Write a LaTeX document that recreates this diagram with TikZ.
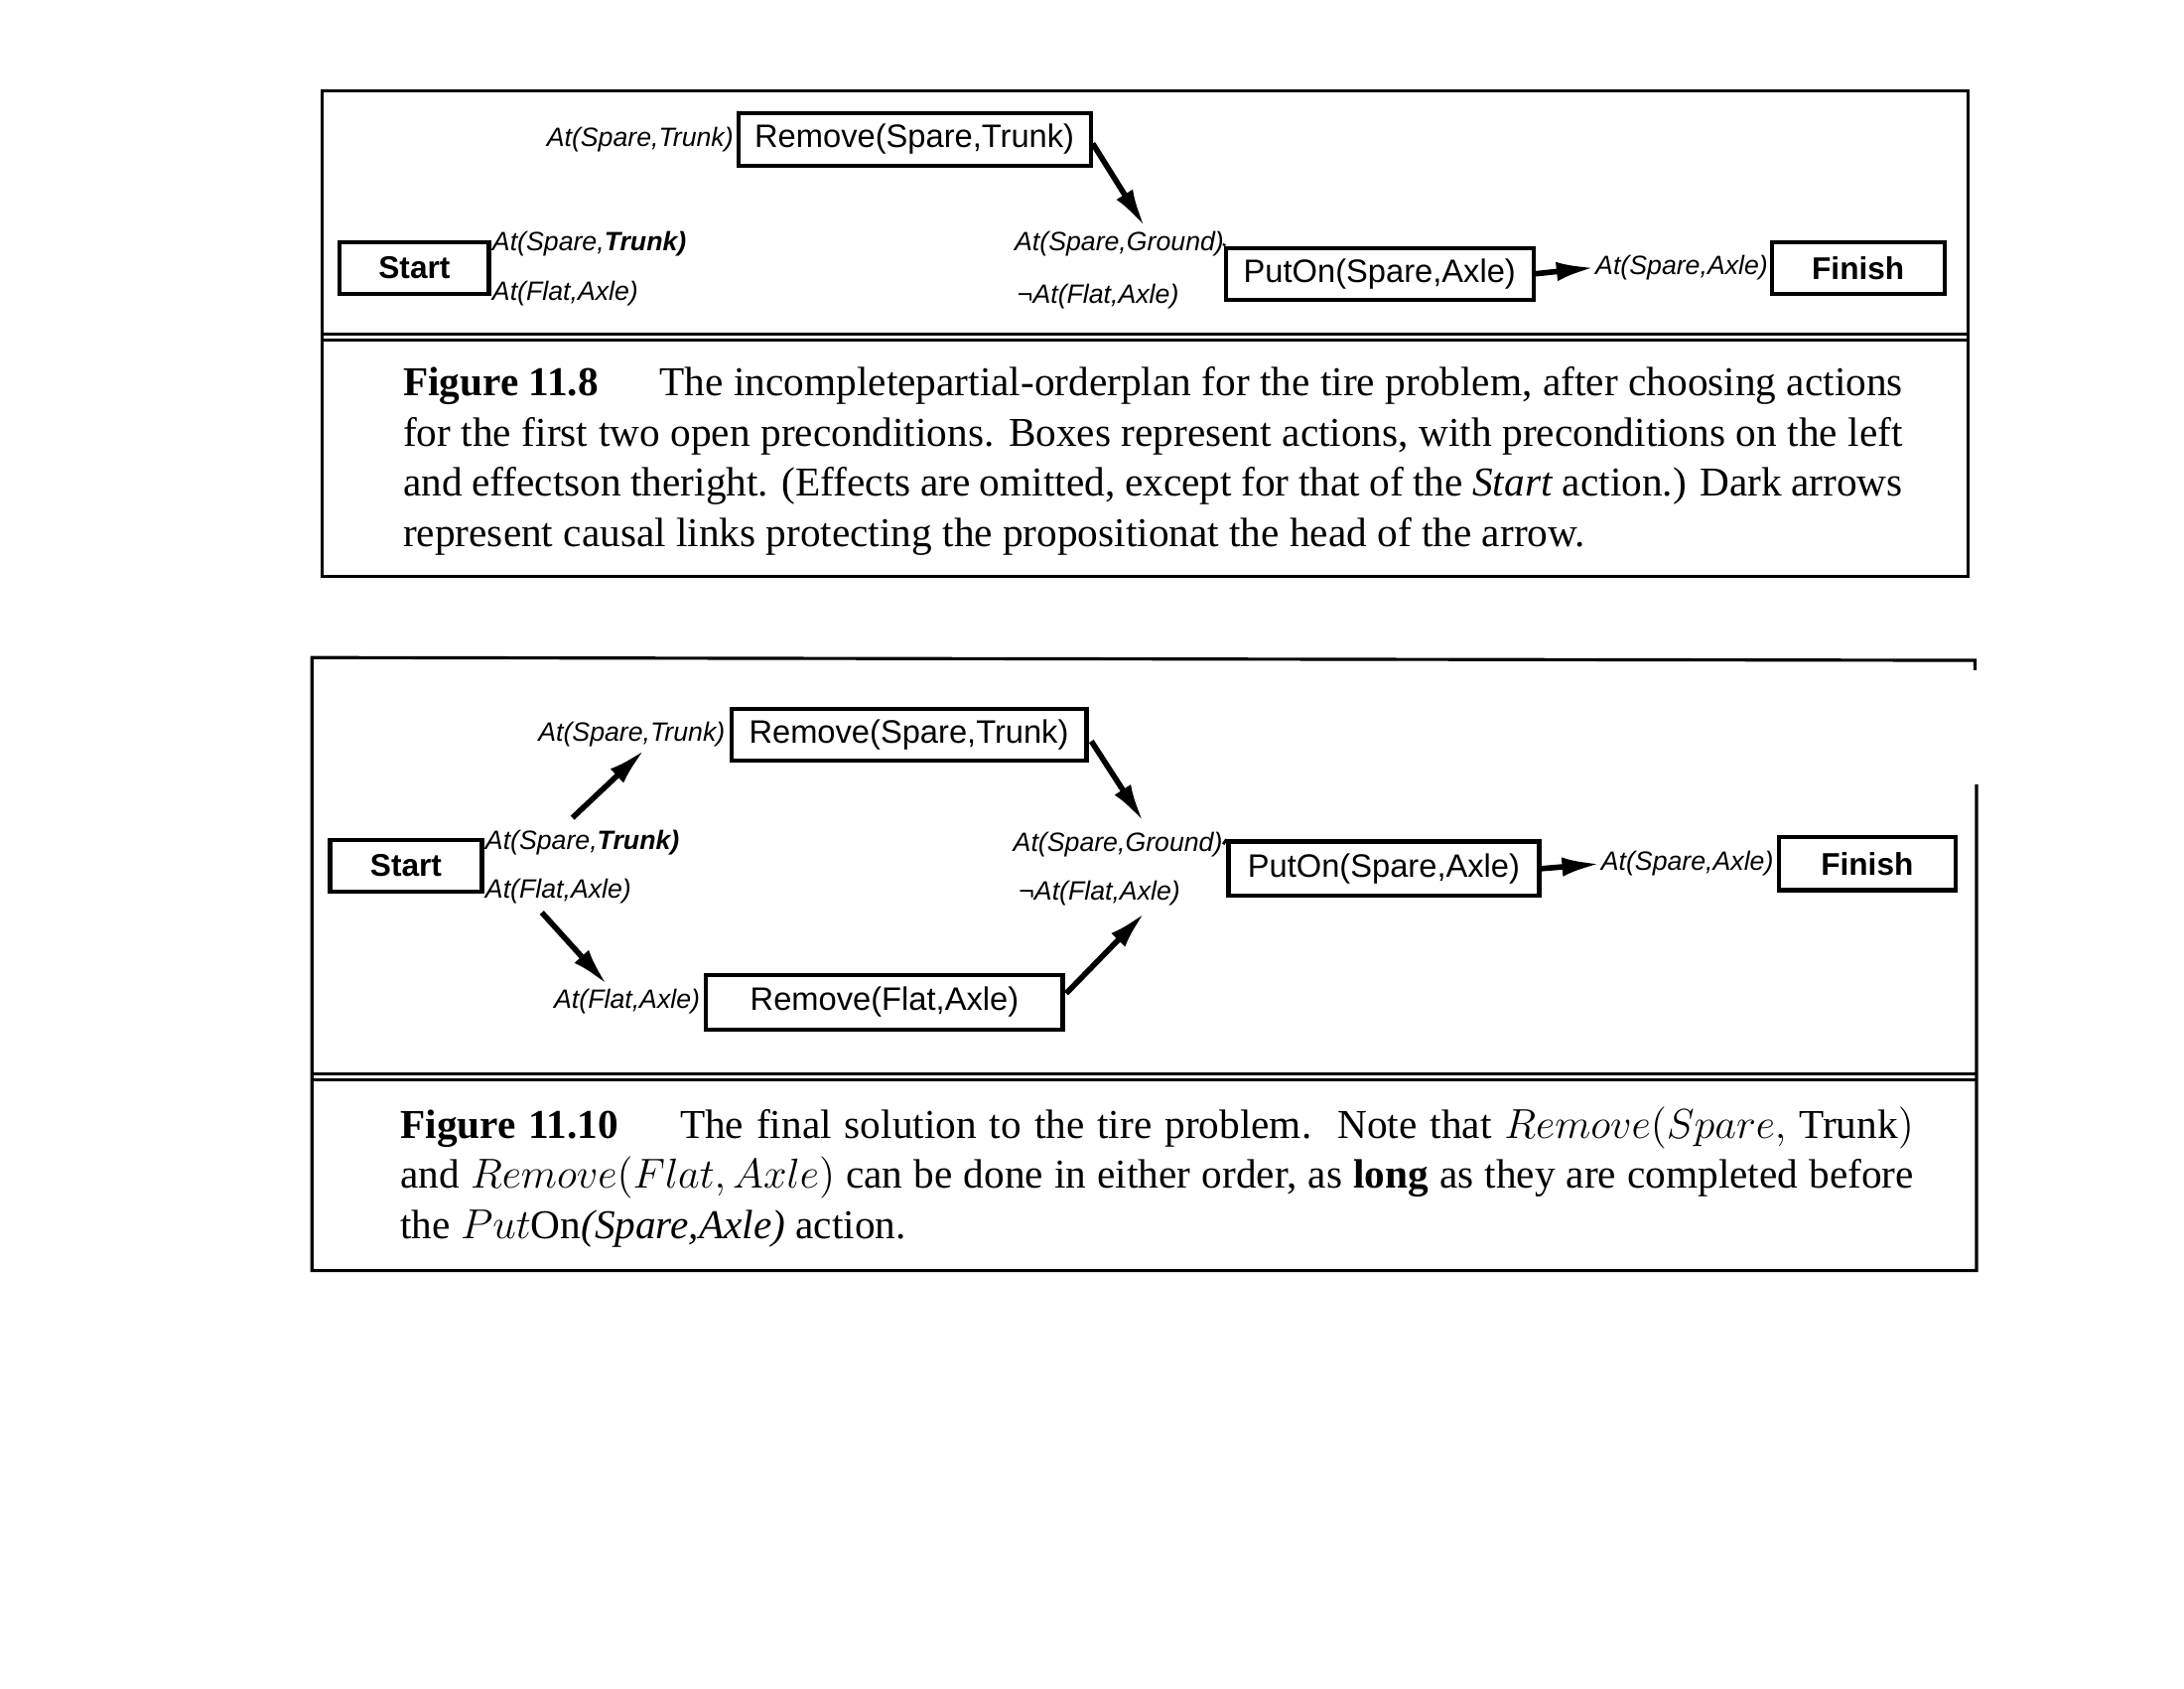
\documentclass[tikz,border=0pt]{standalone}
\usepackage{fontspec}
\setmainfont{Liberation Serif}
\newfontfamily\diagsans{Liberation Sans}
\usetikzlibrary{arrows.meta,calc}
\newlength\pxu
\setlength\pxu{0.014031cm}
\begin{document}
\begin{tikzpicture}[x=0.014031cm,y=-0.014031cm,
  actbox/.style={draw, line width=1.2pt, inner sep=0pt,
    font=\diagsans\fontsize{9.3}{11}\selectfont},
  endbox/.style={actbox, font=\diagsans\bfseries\fontsize{9}{11}\selectfont},
  cond/.style={inner sep=0pt, font=\diagsans\itshape\fontsize{7.6}{9}\selectfont},
  causal/.style={line width=1.6pt, -{Latex[length=11pt,width=5.5pt]}},
  frameline/.style={line width=0.9pt},
  capt/.style={inner sep=0pt, anchor=north west, align=justify,
    font=\fontsize{11.75}{14.4}\selectfont}]
\fill[white] (0,0) rectangle (1568,1212);
\useasboundingbox (0,0) rectangle (1568,1212);

% ---------- Figure 11.8 frame ----------
\draw[frameline] (231,65) rectangle (1413,414);
\draw[frameline] (231,240) -- (1413,240);
\draw[frameline] (231,244) -- (1413,244);

% nodes
\node[actbox, minimum width=253*\pxu, minimum height=38*\pxu] (rst1) at (656.5,100) {Remove(Spare,Trunk)};
\node[cond, anchor=east] (pst1) at (527,100) {At(Spare,Trunk)};
\node[endbox, minimum width=107*\pxu, minimum height=37*\pxu] (start1) at (297.5,192.5) {Start};
\node[cond, anchor=west] (est1) at (353,175) {At(Spare,\textbf{Trunk)}};
\node[cond, anchor=west] (efa1) at (353,211) {At(Flat,Axle)};
\node[cond, anchor=west] (sg1) at (728,175) {At(Spare,Ground)};
\node[cond, anchor=west] (nf1) at (730,213) {¬At(Flat,Axle)};
\node[actbox, minimum width=221*\pxu, minimum height=37*\pxu] (put1) at (990.5,196.5) {PutOn(Spare,Axle)};
\node[cond, anchor=west] (sa1) at (1145,192) {At(Spare,Axle)};
\node[endbox, minimum width=124*\pxu, minimum height=37*\pxu] (fin1) at (1334,192.5) {Finish};

\draw[line width=0.8pt] (sg1.east) -- (put1.north west);
\draw[causal] ($(rst1.east)+(0,3)$) -- ($(sg1.west)+(94,-12)$);
\draw[causal] (put1.east) -- (sa1.west);

\node[capt, text width=430pt] (cap1) at (289,263) {\textbf{Figure 11.8}\hspace{1.5em}The incompletepartial-orderplan for the tire problem, after choosing actions\linebreak for the first two open preconditions. Boxes represent actions, with preconditions on the left\linebreak and effectson theright. (Effects are omitted, except for that of the \textit{Start} action.) Dark arrows\linebreak represent causal links protecting the propositionat the head of the arrow.};

% ---------- Figure 11.10 frame ----------
\draw[frameline] (1419,563) -- (1419,912) -- (224,912) -- (224,472) -- (1418,474) -- (1418,481);
\draw[frameline] (224,771) -- (1420,771);
\draw[frameline] (224,775) -- (1420,775);

\node[actbox, minimum width=255*\pxu, minimum height=37*\pxu] (rst2) at (652.5,527.5) {Remove(Spare,Trunk)};
\node[cond, anchor=east] (pst2) at (521,527) {At(Spare,Trunk)};
\node[endbox, minimum width=109*\pxu, minimum height=37*\pxu] (start2) at (291.5,621.5) {Start};
\node[cond, anchor=west] (est2) at (348,605) {At(Spare,\textbf{Trunk)}};
\node[cond, anchor=west] (efa2) at (348,640) {At(Flat,Axle)};
\node[actbox, minimum width=256*\pxu, minimum height=39*\pxu] (rfa2) at (635,719.5) {Remove(Flat,Axle)};
\node[cond, anchor=east] (pfa2) at (503,719) {At(Flat,Axle)};
\node[cond, anchor=west] (sg2) at (727,606) {At(Spare,Ground)};
\node[cond, anchor=west] (nf2) at (731,641) {¬At(Flat,Axle)};
\node[actbox, minimum width=223*\pxu, minimum height=39*\pxu] (put2) at (993.5,623.5) {PutOn(Spare,Axle)};
\node[cond, anchor=west] (sa2) at (1149,620) {At(Spare,Axle)};
\node[endbox, minimum width=127*\pxu, minimum height=38*\pxu] (fin2) at (1340.5,620) {Finish};

\draw[line width=0.8pt] (sg2.east) -- (put2.north west);
\draw[causal] ($(est2.west)+(63,-18)$) -- ($(pst2.east)+(-58,11)$);
\draw[causal] ($(efa2.west)+(41,15)$) -- ($(pfa2.east)+(-67,-12)$);
\draw[causal] ($(rst2.east)+(2,4.5)$) -- ($(sg2.west)+(94,-16)$);
\draw[causal] ($(rfa2.east)+(1,-6.5)$) -- ($(nf2.west)+(91,14)$);
\draw[causal] (put2.east) -- (sa2.west);

\node[capt, text width=434pt] (cap2) at (287,794) {\textbf{Figure 11.10}\hspace{1.5em}The final solution to the tire problem.\ \ Note that $Remove(Spare,$ Trunk$)$\linebreak and $Remove(Flat, Axle)$ can be done in either order, as \textbf{long} as they are completed before\linebreak the $Put$On\textit{(Spare,Axle)} action.};
\end{tikzpicture}
\end{document}
